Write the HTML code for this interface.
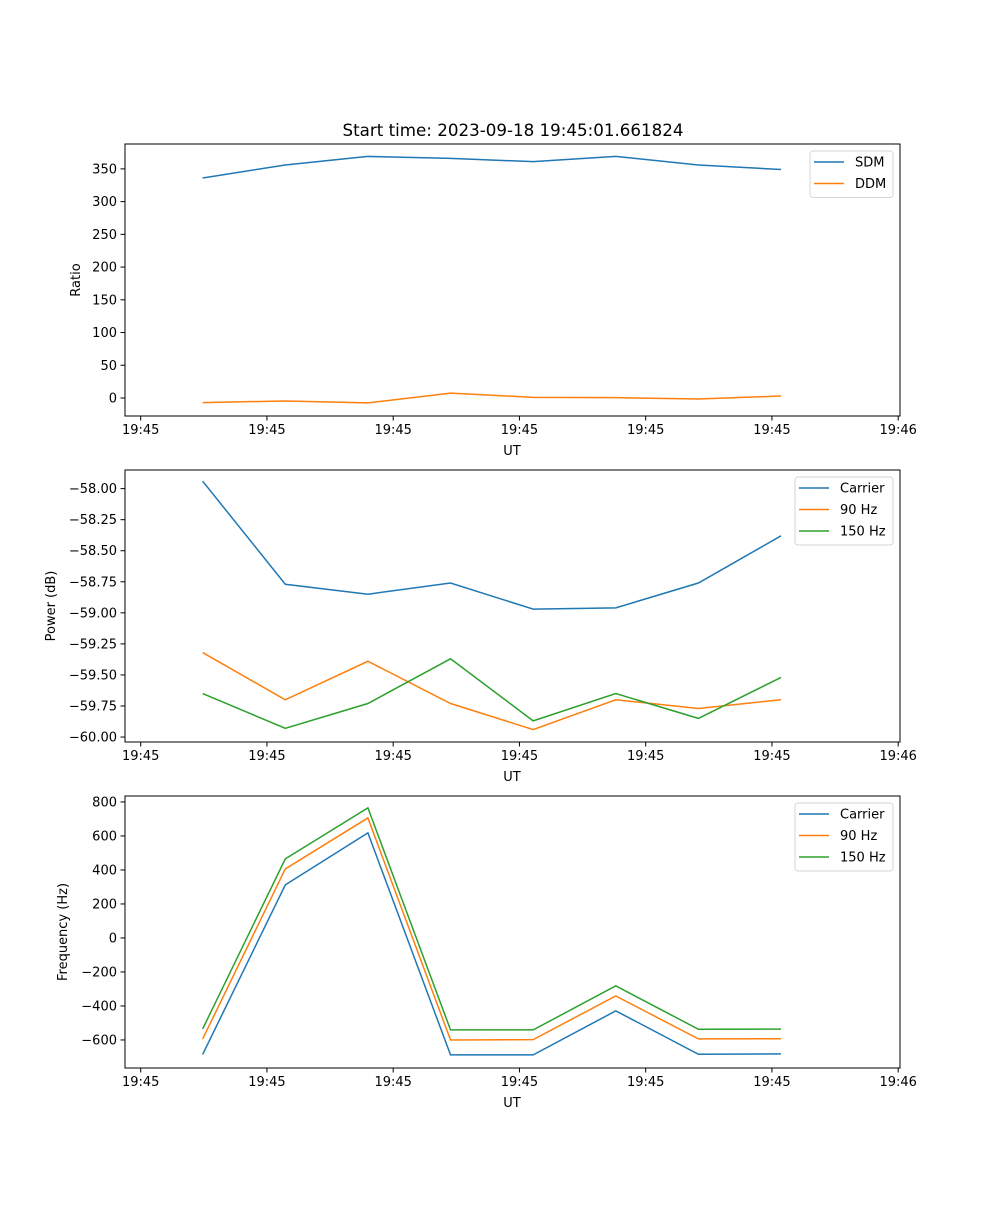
<!DOCTYPE html>
<html><head><meta charset="utf-8"><style>
body{margin:0;background:#fff;}
svg{font-family:"DejaVu Sans","Liberation Sans",sans-serif;}
</style></head><body>
<svg id="fig" width="1000" height="1200" xmlns="http://www.w3.org/2000/svg">
<rect width="1000" height="1200" fill="#fff"/>
<text x="513" y="136" font-size="16.7" text-anchor="middle">Start time: 2023-09-18 19:45:01.661824</text>
</svg>
<script>
const xIdx = [0,1,2,3,4,5,6,7];
const xTickPos = [-0.75,0.778,2.306,3.834,5.362,6.89,8.418];
const xTickLabels = ["19:45","19:45","19:45","19:45","19:45","19:45","19:46"];
const sdm = [336,356,369,366,361,369,356,349];
const ddm = [-7,-4.5,-7.5,7.5,1,0.5,-1.5,3];
const pCarrier = [-57.94,-58.77,-58.85,-58.76,-58.97,-58.96,-58.76,-58.38];
const p90 = [-59.32,-59.70,-59.39,-59.73,-59.94,-59.70,-59.77,-59.70];
const p150 = [-59.65,-59.93,-59.73,-59.37,-59.87,-59.65,-59.85,-59.52];
const fCarrier = [-685,312,618,-688,-688,-429,-684,-682];
const f90 = [-594,406,706,-600,-598,-341,-594,-593];
const f150 = [-535,465,765,-541,-541,-282,-537,-536];
const t1 = [0,50,100,150,200,250,300,350];
const t2 = [-60.00,-59.75,-59.50,-59.25,-59.00,-58.75,-58.50,-58.25,-58.00];
const t3 = [-600,-400,-200,0,200,400,600,800];
const C = ["#1f77b4","#ff7f0e","#2ca02c"];
const NS="http://www.w3.org/2000/svg";
const svg=document.getElementById('fig');
function mk(tag,attrs,parent){const e=document.createElementNS(NS,tag);for(const k in attrs)e.setAttribute(k,attrs[k]);(parent||svg).appendChild(e);return e;}
function panel(id,top,bottom,ymin,ymax,ticks,fmt,series,names,ylabel,legend){
  const L=125,R=900,xmin=-0.94,xmax=8.44;
  const g=mk('g',{});
  
  
  const X=v=>L+(v-xmin)/(xmax-xmin)*(R-L);
  const Y=v=>bottom-(v-ymin)/(ymax-ymin)*(bottom-top);
  series.forEach((s,i)=>{
    const p=mk('polyline',{points:s.map((v,j)=>X(xIdx[j])+','+Y(v)).join(' '),fill:'none',stroke:C[i],'stroke-width':1.5},g);
    
    
  });
  const fr=mk('rect',{x:L,y:top,width:R-L,height:bottom-top,fill:'none',stroke:'#000','stroke-width':1},g);
  
  
  xTickPos.forEach((v,i)=>{
    const x=X(v);
    mk('line',{x1:x,x2:x,y1:bottom,y2:bottom+4.5,stroke:'#000'},g);
    const t=mk('text',{x:x,y:bottom+18,'font-size':13,'text-anchor':'middle'},g);
    
    
    t.textContent=xTickLabels[i];
  });
  const xl=mk('text',{x:512,y:bottom+39,'font-size':13,'text-anchor':'middle'},g);
  
  
  xl.textContent='UT';
  ticks.forEach(v=>{
    const y=Y(v);
    mk('line',{x1:L-4.5,x2:L,y1:y,y2:y,stroke:'#000'},g);
    const t=mk('text',{x:L-8,y:y+4.5,'font-size':13,'text-anchor':'end'},g);
    
    
    t.textContent=fmt(v).replace('-','\u2212');
  });
  const yl=mk('text',{x:0,y:0,'font-size':13,'text-anchor':'middle',transform:`translate(${legend.yx},${(top+bottom)/2}) rotate(-90)`},g);
  
  
  yl.textContent=ylabel;
  const lg=mk('g',{},g);
  
  
  mk('rect',{x:legend.x,y:top+7,width:893-legend.x,height:names.length*21.5+3.5,rx:3,fill:'#fff',stroke:'#ccc','stroke-opacity':0.8},lg);
  names.forEach((n,i)=>{
    const y=top+18+i*21.5;
    mk('line',{x1:legend.x+4,x2:legend.x+34,y1:y,y2:y,stroke:C[i],'stroke-width':1.5},lg);
    const t=mk('text',{x:legend.x+45,y:y+4.5,'font-size':13},lg);
    
    
    t.textContent=n;
  });
}
panel('ratio-panel',144,416,-27.5,388,t1,v=>String(v),[sdm,ddm],['SDM','DDM'],'Ratio',{x:810,yx:80});
panel('power-panel',470,742,-60.04,-57.85,t2,v=>v.toFixed(2),[pCarrier,p90,p150],['Carrier','90 Hz','150 Hz'],'Power (dB)',{x:795,yx:55});
panel('frequency-panel',796,1068,-765,835,t3,v=>String(v),[fCarrier,f90,f150],['Carrier','90 Hz','150 Hz'],'Frequency (Hz)',{x:795,yx:67});
</script>
</body></html>
